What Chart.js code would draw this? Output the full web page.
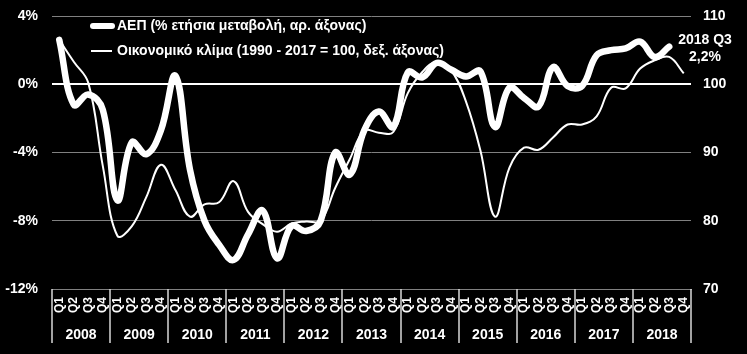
<!DOCTYPE html>
<html>
<head>
<meta charset="utf-8">
<script src="https://cdn.jsdelivr.net/npm/chart.js@4"></script>
<style>
  html, body { margin: 0; padding: 0; background: #000; }
  #wrap { position: relative; width: 747px; height: 354px; background: #000; }
</style>
</head>
<body>
<div id="wrap"><canvas id="c"></canvas></div>
<script>
const years = ['2008','2009','2010','2011','2012','2013','2014','2015','2016','2017','2018'];
const quarters = [];
years.forEach(() => { quarters.push('Q1','Q2','Q3','Q4'); });

// GDP, % annual change (left axis), 2008Q1 - 2018Q3
const gdp = [
  2.6, -1.2, -0.6, -1.5,
  -6.8, -3.4, -4.1, -2.7,
  0.5, -5.0, -8.0, -9.4,
  -10.3, -8.8, -7.4, -10.2,
  -8.3, -8.6, -8.0, -4.0,
  -5.3, -2.7, -1.6, -2.5,
  0.7, 0.4, 1.25, 0.85,
  0.45, 0.75, -2.5, -0.2,
  -0.8, -1.3, 1.0, -0.1,
  -0.1, 1.7, 2.0, 2.1,
  2.5, 1.6, 2.2
];

// Economic climate (1990-2017 = 100, right axis), 2008Q1 - 2018Q4
const climate = [
  106.5, 103.3, 100.2, 88.0,
  77.8, 79.2, 83.5, 88.2,
  84.5, 80.6, 82.4, 82.7,
  85.8, 81.3, 79.5, 78.4,
  79.6, 79.9, 80.0, 84.8,
  89.0, 93.2, 92.9, 93.0,
  98.7, 101.8, 103.3, 102.0,
  97.5, 90.3, 80.6, 87.8,
  90.7, 90.4, 92.2, 94.1,
  94.1, 95.3, 99.5, 99.4,
  102.3, 103.5, 104.0, 101.6
];

const leftTicks = [-12, -8, -4, 0, 4];
const rightTicks = [70, 80, 90, 100, 110];

const legendLabels = ['ΑΕΠ (% ετήσια μεταβολή, αρ. άξονας)', 'Οικονομικό κλίμα (1990 - 2017 = 100, δεξ. άξονας)'];
const noteLines = ['2018 Q3', '2,2%'];

const FONT = '"Liberation Sans", Arial, sans-serif';
const TXT = '#ffffff';

const bgPlugin = {
  id: 'bg',
  beforeDraw(chart) {
    const ctx = chart.ctx;
    ctx.save();
    ctx.fillStyle = '#000';
    ctx.fillRect(0, 0, chart.width, chart.height);
    ctx.restore();
  }
};

const extrasPlugin = {
  id: 'extras',
  afterDraw(chart) {
    const ctx = chart.ctx;
    const x = chart.scales.x;
    const area = chart.chartArea;
    ctx.save();
    // year separators
    ctx.strokeStyle = '#d9d9d9';
    ctx.lineWidth = 1.5;
    for (let i = 0; i <= years.length; i++) {
      const px = Math.round(x.getPixelForDecimal((i * 4) / quarters.length));
      ctx.beginPath();
      ctx.moveTo(px, area.bottom);
      ctx.lineTo(px, area.bottom + 54);
      ctx.stroke();
    }
    // year labels
    ctx.fillStyle = TXT;
    ctx.font = 'bold 14px ' + FONT;
    ctx.textAlign = 'center';
    ctx.textBaseline = 'middle';
    years.forEach((y, i) => {
      const px = x.getPixelForDecimal((i * 4 + 2) / quarters.length);
      ctx.fillText(y, px, area.bottom + 46);
    });
    // legend
    ctx.lineCap = 'round';
    ctx.strokeStyle = '#fff';
    ctx.lineWidth = 6;
    ctx.beginPath(); ctx.moveTo(93, 26); ctx.lineTo(112, 26); ctx.stroke();
    ctx.lineWidth = 2;
    ctx.lineCap = 'butt';
    ctx.beginPath(); ctx.moveTo(91, 51); ctx.lineTo(112, 51); ctx.stroke();
    ctx.font = 'bold 14px ' + FONT;
    ctx.textAlign = 'left';
    ctx.fillText(legendLabels[0], 117, 26);
    ctx.fillText(legendLabels[1], 117, 51);
    // note
    ctx.textAlign = 'center';
    ctx.fillText(noteLines[0], 705, 40);
    ctx.fillText(noteLines[1], 705, 57);
    ctx.restore();
  }
};

new Chart(document.getElementById('c'), {
  type: 'line',
  data: {
    labels: quarters,
    datasets: [
      {
        label: legendLabels[1],
        data: climate,
        yAxisID: 'y1',
        borderColor: '#fff',
        borderWidth: 2,
        pointRadius: 0,
        tension: 0.4,
        fill: false
      },
      {
        label: legendLabels[0],
        data: gdp,
        yAxisID: 'y',
        borderColor: '#fff',
        borderWidth: 6.5,
        pointRadius: 0,
        tension: 0.4,
        borderCapStyle: 'round',
        borderJoinStyle: 'round',
        fill: false
      }
    ]
  },
  options: {
    responsive: true,
    maintainAspectRatio: false,
    devicePixelRatio: 1,
    animation: false,
    events: [],
    layout: { padding: { top: 16, bottom: 0, left: 0, right: 0 } },
    plugins: { legend: { display: false }, tooltip: { enabled: false } },
    scales: {
      x: {
        type: 'category',
        offset: true,
        grid: { display: false, drawTicks: false },
        border: { display: true, color: '#808080', width: 1 },
        ticks: {
          autoSkip: false,
          minRotation: 90,
          maxRotation: 90,
          padding: 8,
          color: TXT,
          font: { family: FONT, size: 12, weight: 'bold' }
        },
        afterFit(s) { s.height = 65; s.paddingLeft = 0; s.paddingRight = 0; }
      },
      y: {
        position: 'left',
        min: -12,
        max: 4,
        afterBuildTicks(s) { s.ticks = leftTicks.map(v => ({ value: v })); },
        ticks: {
          padding: 14,
          color: TXT,
          font: { family: FONT, size: 14, weight: 'bold' },
          callback: v => v + '%'
        },
        grid: {
          drawTicks: false,
          color: c => c.tick && c.tick.value === 0 ? '#ffffff' : '#808080',
          lineWidth: c => c.tick && c.tick.value === 0 ? 2 : 1
        },
        border: { display: false },
        afterFit(s) { s.width = 52; s.paddingTop = 8; s.paddingBottom = 8; }
      },
      y1: {
        position: 'right',
        min: 70,
        max: 110,
        afterBuildTicks(s) { s.ticks = rightTicks.map(v => ({ value: v })); },
        ticks: {
          padding: 12,
          color: TXT,
          font: { family: FONT, size: 14, weight: 'bold' }
        },
        grid: { drawOnChartArea: false, drawTicks: false },
        border: { display: false },
        afterFit(s) { s.width = 56; s.paddingTop = 8; s.paddingBottom = 8; }
      }
    }
  },
  plugins: [bgPlugin, extrasPlugin]
});
</script>
</body>
</html>
